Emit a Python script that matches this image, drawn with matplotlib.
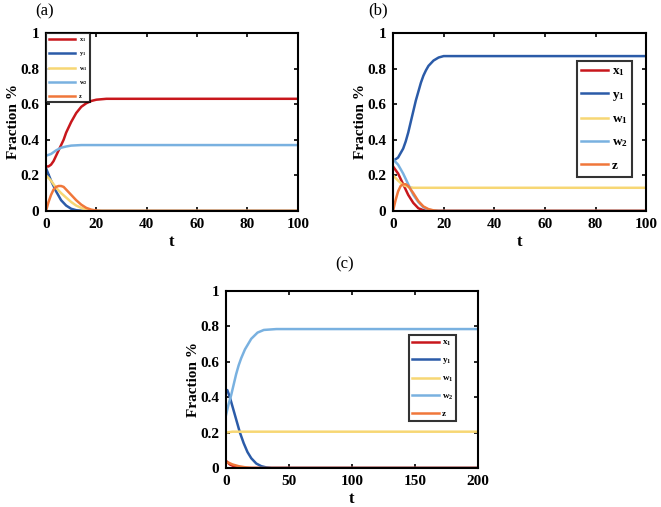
import numpy as np
import matplotlib.pyplot as plt

plt.rcParams['font.family'] = ['Liberation Serif', 'DejaVu Serif']
plt.rcParams['font.weight'] = 'bold'
plt.rcParams['mathtext.fontset'] = 'custom'
plt.rcParams['mathtext.rm'] = 'Liberation Serif:bold'
plt.rcParams['mathtext.it'] = 'Liberation Serif:bold'
plt.rcParams['mathtext.bf'] = 'Liberation Serif:bold'

# colours (MATLAB-like palette)
col_x1 = '#C8171C'
col_y1 = '#2B5BA8'
col_w1 = '#F7D774'
col_w2 = '#79B1E0'
col_z = '#F0773A'

names = ['x$_1$', 'y$_1$', 'w$_1$', 'w$_2$', 'z']

# ---- panel (a) values
a_t_x1 = [0, 1, 2, 3, 4, 5, 6, 7, 8, 9, 10, 12, 14, 16, 18, 20, 24, 100]
a_x1 = [0.25, 0.25, 0.26, 0.28, 0.31, 0.34, 0.37, 0.40, 0.44, 0.47, 0.50, 0.55, 0.585, 0.605, 0.618, 0.625, 0.63, 0.63]
a_t_y1 = [0, 2, 4, 6, 8, 10, 12, 15, 100]
a_y1 = [0.24, 0.17, 0.11, 0.06, 0.03, 0.012, 0.004, 0.0, 0.0]
a_t_w1 = [0, 2, 4, 6, 8, 10, 12, 14, 16, 18, 20, 100]
a_w1 = [0.20, 0.17, 0.13, 0.10, 0.075, 0.05, 0.03, 0.017, 0.008, 0.003, 0.0, 0.0]
a_t_w2 = [0, 2, 4, 6, 8, 10, 14, 100]
a_w2 = [0.31, 0.32, 0.34, 0.355, 0.362, 0.367, 0.37, 0.37]
a_t_z = [0, 1, 2, 3, 4, 5, 6, 7, 8, 10, 12, 14, 16, 18, 20, 22, 100]
a_z = [0.0, 0.05, 0.09, 0.12, 0.135, 0.14, 0.14, 0.135, 0.12, 0.09, 0.06, 0.035, 0.017, 0.007, 0.002, 0.0, 0.0]

# ---- panel (b)
b_t_x1 = [0, 2, 4, 6, 8, 10, 12, 14, 100]
b_x1 = [0.25, 0.21, 0.15, 0.09, 0.045, 0.015, 0.004, 0.0, 0.0]
b_t_y1 = [0, 2, 4, 5, 6, 7, 8, 9, 10, 11, 12, 13, 14, 16, 18, 20, 100]
b_y1 = [0.28, 0.30, 0.35, 0.39, 0.44, 0.50, 0.56, 0.62, 0.67, 0.72, 0.76, 0.79, 0.815, 0.845, 0.862, 0.87, 0.87]
b_t_w1 = [0, 2, 4, 6, 8, 100]
b_w1 = [0.20, 0.17, 0.145, 0.135, 0.13, 0.13]
b_t_w2 = [0, 2, 4, 6, 8, 10, 12, 14, 16, 18, 100]
b_w2 = [0.29, 0.26, 0.21, 0.15, 0.09, 0.05, 0.02, 0.007, 0.002, 0.0, 0.0]
b_t_z = [0, 1, 2, 3, 4, 5, 6, 8, 10, 12, 14, 16, 18, 100]
b_z = [0.0, 0.06, 0.11, 0.14, 0.15, 0.15, 0.14, 0.10, 0.055, 0.025, 0.01, 0.003, 0.0, 0.0]

# ---- panel (c)
c_t_x1 = [0, 3, 6, 10, 15, 200]
c_x1 = [0.04, 0.02, 0.01, 0.003, 0.0, 0.0]
c_t_y1 = [0, 1, 3, 5, 7, 9, 11, 14, 17, 20, 24, 28, 32, 36, 200]
c_y1 = [0.44, 0.44, 0.40, 0.35, 0.30, 0.25, 0.20, 0.14, 0.09, 0.055, 0.025, 0.01, 0.003, 0.0, 0.0]
c_t_w1 = [0, 5, 200]
c_w1 = [0.20, 0.205, 0.205]
c_t_w2 = [0, 2, 4, 6, 8, 10, 12, 15, 20, 25, 30, 40, 200]
c_w2 = [0.30, 0.36, 0.41, 0.47, 0.53, 0.58, 0.62, 0.67, 0.73, 0.765, 0.78, 0.785, 0.785]
c_t_z = [0, 2, 5, 10, 15, 20, 200]
c_z = [0.03, 0.03, 0.02, 0.01, 0.004, 0.0, 0.0]

fig = plt.figure(figsize=(6.61, 5.07), dpi=100)


def panel(rect, xmax, xticks, series, legend_kw, label, label_pos):
    ax = fig.add_axes(rect)
    for (t, v), col, nm in zip(series, [col_x1, col_y1, col_w1, col_w2, col_z], names):
        ax.plot(t, v, color=col, lw=1.8, label=nm)
    ax.set_xlim(0, xmax)
    ax.set_ylim(0, 1)
    ax.set_xticks(xticks)
    ax.set_yticks([0, 0.2, 0.4, 0.6, 0.8, 1])
    ax.set_yticklabels(['0', '0.2', '0.4', '0.6', '0.8', '1'])
    ax.tick_params(direction='in', top=True, right=True, length=3, width=1.2,
                   labelsize=11)
    ax.tick_params(axis='x', pad=5)
    ax.tick_params(axis='y', pad=5)
    for s in ax.spines.values():
        s.set_linewidth(1.5)
    ax.set_xlabel('t', fontsize=12, fontweight='bold', labelpad=2)
    ax.set_ylabel('Fraction %', fontsize=11, fontweight='bold', labelpad=0)
    leg = ax.legend(fancybox=False, edgecolor='black', borderaxespad=0,
                    **legend_kw)
    leg.get_frame().set_linewidth(1.5)
    fig.text(label_pos[0], label_pos[1], label, fontsize=12, fontweight='normal',
             ha='center', va='center')
    return ax


panel([0.0696, 0.584, 0.381, 0.351], 100, [0, 20, 40, 60, 80, 100],
      [(a_t_x1, a_x1), (a_t_y1, a_y1), (a_t_w1, a_w1), (a_t_w2, a_w2), (a_t_z, a_z)],
      dict(loc='upper left', fontsize=4.5, handlelength=4.2, labelspacing=1.05,
           handletextpad=0.6, borderpad=0.45),
      '(a)', (45 / 661, 1 - 11 / 507))

panel([0.5946, 0.584, 0.383, 0.351], 100, [0, 20, 40, 60, 80, 100],
      [(b_t_x1, b_x1), (b_t_y1, b_y1), (b_t_w1, b_w1), (b_t_w2, b_w2), (b_t_z, b_z)],
      dict(loc='upper right', bbox_to_anchor=(0.945, 0.845), fontsize=9.5,
           handlelength=2.0, labelspacing=0.78, handletextpad=0.3, borderpad=0.35),
      '(b)', (378 / 661, 1 - 10 / 507))

panel([0.342, 0.077, 0.381, 0.349], 200, [0, 50, 100, 150, 200],
      [(c_t_x1, c_x1), (c_t_y1, c_y1), (c_t_w1, c_w1), (c_t_w2, c_w2), (c_t_z, c_z)],
      dict(loc='upper right', bbox_to_anchor=(0.915, 0.75), fontsize=6.5,
           handlelength=3.0, labelspacing=0.9, handletextpad=0.3, borderpad=0.35),
      '(c)', (345 / 661, 1 - 264 / 507))

fig.savefig('out.png', dpi=100)
